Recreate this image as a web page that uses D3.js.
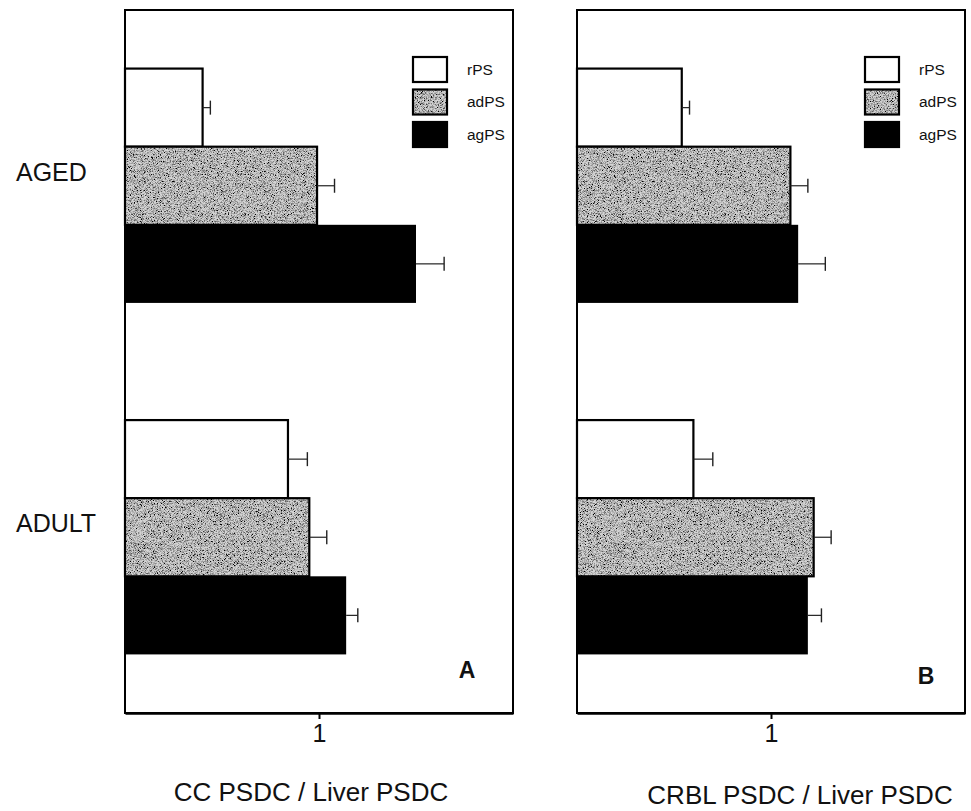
<!DOCTYPE html>
<html>
<head>
<meta charset="utf-8">
<script src="https://cdn.jsdelivr.net/npm/d3@7/dist/d3.min.js"></script>
<style>
  html, body { margin: 0; padding: 0; background: #fff; }
  svg { display: block; font-family: "Liberation Sans", Arial, sans-serif; }
</style>
</head>
<body>
<svg id="chart" width="971" height="811"></svg>
<script>
// ---- data ----
const categories = ["AGED", "ADULT"];
const series = ["rPS", "adPS", "agPS"];
const xTicks = [1];
const panelTitles = ["CC PSDC / Liver PSDC", "CRBL PSDC / Liver PSDC"];
const panelLetters = ["A", "B"];

// panel A (CC): values per category, order rPS, adPS, agPS
const ccAged = [0.40, 0.99, 1.50];
const ccAgedErr = [0.04, 0.09, 0.145];
const ccAdult = [0.84, 0.95, 1.14];
const ccAdultErr = [0.10, 0.09, 0.06];

// panel B (CRBL)
const crblAged = [0.54, 1.10, 1.14];
const crblAgedErr = [0.04, 0.09, 0.14];
const crblAdult = [0.60, 1.22, 1.19];
const crblAdultErr = [0.10, 0.09, 0.07];

function rows(aged, agedErr, adult, adultErr) {
  const out = [];
  series.forEach((s, i) => {
    out.push({ cat: "AGED", s, v: aged[i], e: agedErr[i] });
    out.push({ cat: "ADULT", s, v: adult[i], e: adultErr[i] });
  });
  return out;
}
const panels = [
  { data: rows(ccAged, ccAgedErr, ccAdult, ccAdultErr), left: 125, right: 513, title: panelTitles[0], letter: panelLetters[0], titleX: 311, titleY: 801, letterX: 467, letterY: 678 },
  { data: rows(crblAged, crblAgedErr, crblAdult, crblAdultErr), left: 577, right: 965, title: panelTitles[1], letter: panelLetters[1], titleX: 800, titleY: 804, letterX: 926, letterY: 684 }
];

// ---- drawing ----
const svg = d3.select("#chart");
const plotTop = 10, plotBottom = 713;

const defs = svg.append("defs");
const flt = defs.append("filter").attr("id", "grain")
  .attr("x", 0).attr("y", 0).attr("width", 1).attr("height", 1)
  .attr("filterUnits", "objectBoundingBox");
flt.append("feTurbulence").attr("type", "fractalNoise").attr("baseFrequency", 1.3)
  .attr("numOctaves", 2).attr("seed", 7).attr("stitchTiles", "stitch").attr("result", "t");
flt.append("feColorMatrix").attr("in", "t").attr("type", "matrix")
  .attr("values", "0 0 0 0 0  0 0 0 0 0  0 0 0 0 0  3.0 0 0 0 -1.2").attr("result", "dots");
flt.append("feComposite").attr("in", "dots").attr("in2", "SourceGraphic").attr("operator", "atop");
const pat = defs.append("pattern").attr("id", "stipple")
  .attr("patternUnits", "userSpaceOnUse").attr("width", 240).attr("height", 240);
pat.append("rect").attr("width", 240).attr("height", 240).attr("fill", "#d4d4d4")
  .attr("filter", "url(#grain)");

const fills = { rPS: "#ffffff", adPS: "url(#stipple)", agPS: "#000000" };

const y = d3.scaleBand().domain(categories).range([plotTop, plotBottom])
  .paddingInner(1 / 3).paddingOuter(1 / 6);
const ySub = d3.scaleBand().domain(series).range([0, y.bandwidth()]).padding(0);

panels.forEach(p => {
  const x = d3.scaleLinear().domain([0, 2]).range([p.left, p.right]);
  const g = svg.append("g");

  // frame
  g.append("rect").attr("x", p.left).attr("y", plotTop)
    .attr("width", p.right - p.left).attr("height", plotBottom - plotTop)
    .attr("fill", "#fff").attr("stroke", "#000").attr("stroke-width", 2);

  // bars
  g.selectAll("rect.bar").data(p.data).join("rect").attr("class", "bar")
    .attr("x", x(0))
    .attr("y", d => y(d.cat) + ySub(d.s))
    .attr("width", d => x(d.v) - x(0))
    .attr("height", ySub.bandwidth())
    .attr("fill", d => fills[d.s])
    .attr("stroke", "#000")
    .attr("stroke-width", d => d.s === "agPS" ? 0 : 2.2);

  // error bars
  const eb = g.selectAll("g.err").data(p.data).join("g").attr("class", "err")
    .attr("transform", d => `translate(0,${y(d.cat) + ySub(d.s) + ySub.bandwidth() / 2})`);
  eb.append("line").attr("x1", d => x(d.v)).attr("x2", d => x(d.v + d.e))
    .attr("stroke", "#222").attr("stroke-width", 1.2);
  eb.append("line").attr("x1", d => x(d.v + d.e)).attr("x2", d => x(d.v + d.e))
    .attr("y1", -7).attr("y2", 7).attr("stroke", "#222").attr("stroke-width", 1.4);

  // x axis
  const ax = g.append("g").attr("transform", `translate(0,${plotBottom})`)
    .call(d3.axisBottom(x).tickValues(xTicks).tickFormat(d3.format("d"))
      .tickSize(6).tickSizeOuter(0).tickPadding(5));
  ax.select(".domain").attr("stroke", "#000").attr("stroke-width", 2.5);
  ax.selectAll(".tick line").attr("stroke", "#000").attr("stroke-width", 2);
  ax.selectAll(".tick text").attr("font-size", 25).attr("fill", "#111")
    .attr("font-family", "'Liberation Sans', Arial, sans-serif");

  // legend
  const lg = g.append("g");
  const lx = p.right - 100, ly = 57, step = 32.5, bw = 34, bh = 25;
  series.forEach((s, i) => {
    lg.append("rect").attr("x", lx).attr("y", ly + i * step).attr("width", bw).attr("height", bh)
      .attr("fill", fills[s]).attr("stroke", "#000").attr("stroke-width", 2.2);
    lg.append("text").attr("x", lx + bw + 20).attr("y", ly + i * step + bh / 2 + 5)
      .attr("font-size", 15.5).attr("fill", "#111").text(s);
  });

  // panel letter
  g.append("text").attr("x", p.letterX).attr("y", p.letterY).attr("text-anchor", "middle")
    .attr("font-size", 23).attr("font-weight", "bold").attr("fill", "#111").text(p.letter);

  // title
  g.append("text").attr("x", p.titleX).attr("y", p.titleY).attr("text-anchor", "middle")
    .attr("font-size", 26).attr("fill", "#111").text(p.title);
});

// category labels
svg.selectAll("text.cat").data(categories).join("text").attr("class", "cat")
  .attr("x", 16).attr("y", d => y(d) + y.bandwidth() / 2 - 5)
  .attr("font-size", 25).attr("fill", "#111").text(d => d);
</script>
</body>
</html>
